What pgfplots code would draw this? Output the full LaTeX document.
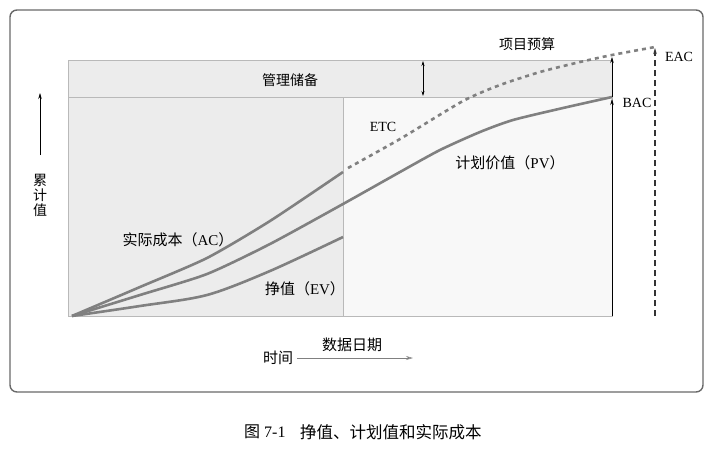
\documentclass[border=0pt]{standalone}
\usepackage{pgfplots}
\pgfplotsset{compat=1.18}
\usepackage{fontspec}
\setmainfont{Liberation Serif}
\newfontfamily\cjk{Noto Sans CJK SC}
\usetikzlibrary{arrows.meta}
\definecolor{curve}{RGB}{128,128,128}
\definecolor{stip}{RGB}{236,236,236}
\definecolor{stiplight}{RGB}{248,248,248}
\definecolor{edge}{RGB}{185,185,185}
\begin{document}
\begin{tikzpicture}
\begin{axis}[width=716pt,height=448pt,scale only axis,
  xmin=0,xmax=716,ymin=0,ymax=448,y dir=reverse,hide axis,clip=false]
% bounding
\addplot[draw=none,forget plot] coordinates {(0,0) (716,448)};
% outer frame
\addplot[draw={rgb,255:red,105;green,105;blue,105},line width=1.4pt,rounded corners=7pt] coordinates {(10,10) (703,10) (703,392) (10,392)} -- cycle;
% management reserve band
\addplot[fill=stip,draw=edge,line width=0.8pt] coordinates {(68,60) (612,60) (612,97) (68,97)} -- cycle;
% left (actual) region
\addplot[fill=stip,draw=edge,line width=0.8pt] coordinates {(68,97) (343,97) (343,316) (68,316)} -- cycle;
% right (future) region
\addplot[fill=stiplight,draw=edge,line width=0.8pt] coordinates {(343,97) (612,97) (612,316) (343,316)} -- cycle;
% data date line
\addplot[draw=edge,line width=0.8pt] coordinates {(343,97) (343,316)};
% management reserve double arrow
\addplot[black,line width=0.6pt,{Stealth[length=5pt,width=3pt]}-{Stealth[length=5pt,width=3pt]}] coordinates {(423,61) (423,96)};
% BAC arrow
\addplot[black,line width=0.6pt,-{Stealth[length=6pt,width=3.5pt]}] coordinates {(612,316) (612,99)};
% project budget arrow
\addplot[black,line width=0.6pt,-{Stealth[length=6pt,width=3.5pt]}] coordinates {(612,97) (612,57)};
% EAC dashed line
\addplot[black!80,line width=1.2pt,dash pattern=on 6pt off 4pt,-{Stealth[length=6pt,width=3.5pt]}] coordinates {(655,316) (655,48)};
% PV
\addplot[curve,line width=2.6pt,smooth,tension=0.4] coordinates {
(72,316) (140,295) (207,274) (270,244) (343,204) (400,172) (440,150) (480,132) (513,120) (563,108) (612,97)};
% AC
\addplot[curve,line width=2.6pt,smooth,tension=0.4] coordinates {
(72,316) (140,287) (207,258) (270,221) (343,172)};
% ETC dashed
\addplot[curve,line width=2.6pt,dash pattern=on 4pt off 4pt,smooth,tension=0.4] coordinates {
(348,168) (400,139) (463,101) (500,85) (540,72) (580,62) (612,55) (655,47)};
% EV
\addplot[curve,line width=2.6pt,smooth,tension=0.5] coordinates {
(72,316) (140,306) (207,295) (270,271) (343,237)};
% y arrow
\addplot[black,line width=0.6pt,-{Stealth[length=6pt,width=3.5pt]}] coordinates {(40,155) (40,93)};
% time arrow
\addplot[gray,line width=0.6pt,-{Stealth[length=7pt,width=4pt,open]}] coordinates {(297,358) (413,358)};
% labels
\node[font=\fontsize{14}{16}\selectfont\cjk] at (axis cs:290,80) {管理储备};
\node[font=\fontsize{14}{16}\selectfont\cjk] at (axis cs:527,44) {项目预算};
\node[font=\fontsize{14}{16}\selectfont] at (axis cs:679,57) {EAC};
\node[font=\fontsize{14}{16}\selectfont] at (axis cs:637,103) {BAC};
\node[font=\fontsize{14}{16}\selectfont] at (axis cs:383,127) {ETC};
\node[font=\fontsize{15}{17}\selectfont] at (axis cs:510,163) {{\cjk 计划价值（}PV{\cjk ）}};
\node[font=\fontsize{15}{17}\selectfont] at (axis cs:178,240) {{\cjk 实际成本（}AC{\cjk ）}};
\node[font=\fontsize{15}{17}\selectfont] at (axis cs:305,289) {{\cjk 挣值（}EV{\cjk ）}};
\node[font=\fontsize{14}{15}\selectfont\cjk,align=center] at (axis cs:40,195) {累\\计\\值};
\node[font=\fontsize{15}{17}\selectfont\cjk] at (axis cs:352,345) {数据日期};
\node[font=\fontsize{15}{17}\selectfont\cjk] at (axis cs:278,358) {时间};
\node[font=\fontsize{16}{18}\selectfont,anchor=west,inner sep=0pt] at (axis cs:244,432) {{\cjk 图} 7-1};
\node[font=\fontsize{16.5}{18}\selectfont\cjk,anchor=west,inner sep=0pt] at (axis cs:300,432) {挣值、计划值和实际成本};
\end{axis}
\end{tikzpicture}
\end{document}
